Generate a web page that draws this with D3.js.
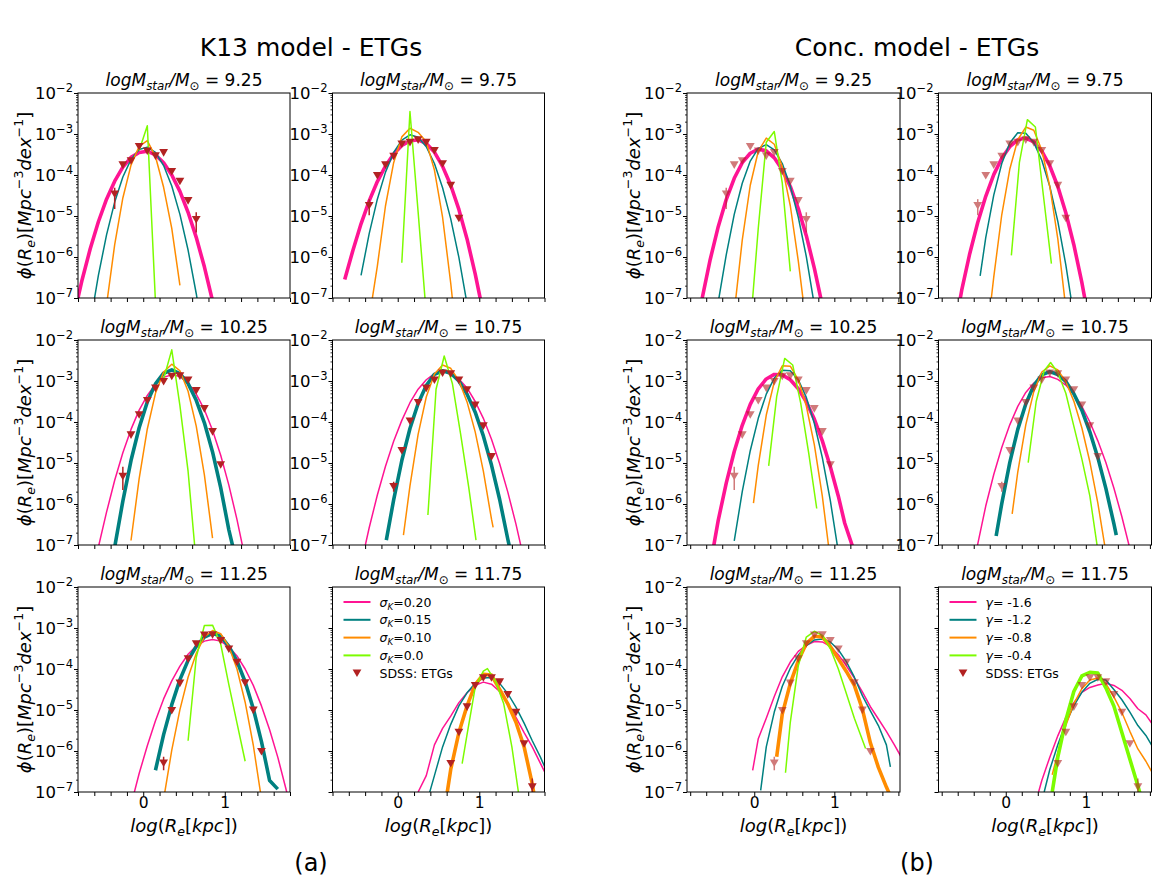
<!DOCTYPE html>
<html>
<head>
<meta charset="utf-8">
<script src="https://cdn.jsdelivr.net/npm/d3@7"></script>
<style>
  body { margin: 0; background: #fff; }
  text { font-family: "DejaVu Sans", sans-serif; fill: #000; }
</style>
</head>
<body>
<svg id="chart" width="1159" height="889"></svg>
<script>
// stellar mass bins (one panel each)
const massBins = ["9.25", "9.75", "10.25", "10.75", "11.25", "11.75"]

// SDSS ETGs: [logRe, log phi, errLow, errHigh]
const sdss925 = [[-0.35, -4.47, -4.83, -4.31], [-0.25, -3.76], [-0.15, -3.66], [-0.05, -3.31], [0.05, -3.42], [0.15, -3.54], [0.25, -3.46], [0.35, -3.92], [0.45, -4.16], [0.55, -4.63], [0.65, -5.09, -5.40, -4.91]]
const sdss975 = [[-0.35, -4.75, -4.98, -4.59], [-0.25, -4.02], [-0.15, -3.76], [-0.05, -3.55], [0.05, -3.25], [0.15, -3.21], [0.25, -3.15], [0.35, -3.21], [0.45, -3.41], [0.55, -3.73], [0.65, -4.26], [0.75, -5.06]]
const sdss1025 = [[-0.25, -5.33, -5.66, -5.09], [-0.15, -4.32], [-0.05, -3.83], [0.05, -3.48], [0.15, -3.18], [0.25, -3.02], [0.35, -2.89], [0.45, -2.88], [0.55, -2.98], [0.65, -3.24], [0.75, -3.68], [0.85, -4.24], [0.95, -5.05]]
const sdss1075 = [[-0.05, -5.58, -5.70, -5.46], [0.05, -4.70], [0.15, -3.98], [0.25, -3.53], [0.35, -3.18], [0.45, -2.98], [0.55, -2.81], [0.65, -2.83], [0.75, -2.98], [0.85, -3.22], [0.95, -3.59], [1.05, -4.10], [1.15, -4.85]]
const sdss1125 = [[0.25, -6.30, -6.47, -6.14], [0.35, -5.02], [0.45, -4.35], [0.55, -3.76], [0.65, -3.39], [0.75, -3.18], [0.85, -3.17], [0.95, -3.31], [1.05, -3.52], [1.15, -3.84], [1.25, -4.34], [1.35, -5.01], [1.45, -6.02]]
const sdss1175 = [[0.65, -6.31], [0.75, -5.55], [0.85, -4.93], [0.95, -4.41], [1.05, -4.22], [1.15, -4.22], [1.25, -4.32], [1.35, -4.63], [1.45, -5.06], [1.55, -5.83], [1.65, -6.88, -7.0, -6.67]]
const sdssData = [sdss925, sdss975, sdss1025, sdss1075, sdss1125, sdss1175]

// K13 model, [logRe, log phi] for sigma_K = 0.20, 0.15, 0.10, 0.0
const k13_925 = [
    [[-0.85, -7.43], [-0.75, -6.56], [-0.65, -5.80], [-0.55, -5.14], [-0.45, -4.59], [-0.35, -4.15], [-0.25, -3.81], [-0.15, -3.57], [-0.05, -3.45], [0.05, -3.42], [0.15, -3.51], [0.25, -3.70], [0.35, -4.00], [0.45, -4.40], [0.55, -4.91], [0.65, -5.52], [0.75, -6.24], [0.85, -7.07]],
    [[-0.65, -7.62], [-0.55, -6.45], [-0.45, -5.46], [-0.35, -4.66], [-0.25, -4.05], [-0.15, -3.62], [-0.05, -3.38], [0.05, -3.32], [0.15, -3.45], [0.25, -3.77], [0.35, -4.27], [0.45, -4.96], [0.55, -5.83], [0.65, -6.89], [0.75, -8.1]],
    [[-0.45, -7.17], [-0.35, -5.70], [-0.25, -4.56], [-0.15, -3.76], [-0.05, -3.30], [0.05, -3.16], [0.15, -3.55], [0.25, -4.30], [0.35, -5.30], [0.45, -6.69]],
    [[-0.05, -3.40], [0.05, -2.80], [0.15, -7.10]]
]
const k13_975 = [
    [[-0.65, -6.55], [-0.55, -5.84], [-0.45, -5.19], [-0.35, -4.63], [-0.25, -4.16], [-0.15, -3.78], [-0.05, -3.49], [0.05, -3.28], [0.15, -3.17], [0.25, -3.14], [0.35, -3.23], [0.45, -3.44], [0.55, -3.79], [0.65, -4.25], [0.75, -4.84], [0.85, -5.56], [0.95, -6.41], [1.05, -7.38]],
    [[-0.45, -6.45], [-0.35, -5.43], [-0.25, -4.59], [-0.15, -3.93], [-0.05, -3.45], [0.05, -3.15], [0.15, -3.02], [0.25, -3.08], [0.35, -3.31], [0.45, -3.72], [0.55, -4.31], [0.65, -5.07], [0.75, -6.01], [0.85, -7.14]],
    [[-0.35, -7.5], [-0.25, -6.22], [-0.15, -4.75], [-0.05, -3.70], [0.05, -3.07], [0.15, -2.86], [0.25, -2.96], [0.35, -3.19], [0.45, -3.88], [0.55, -5.03], [0.65, -6.64], [0.75, -8.5]],
    [[0.05, -6.14], [0.15, -2.45], [0.25, -4.90], [0.35, -7.40]]
]
const k13_1025 = [
    [[-0.55, -7.05], [-0.45, -6.20], [-0.35, -5.42], [-0.25, -4.75], [-0.15, -4.18], [-0.05, -3.71], [0.05, -3.35], [0.15, -3.08], [0.25, -2.91], [0.35, -2.85], [0.45, -2.89], [0.55, -3.05], [0.65, -3.32], [0.75, -3.70], [0.85, -4.20], [0.95, -4.81], [1.05, -5.54], [1.15, -6.38], [1.25, -7.33]],
    [[-0.35, -7.05], [-0.25, -5.93], [-0.15, -4.94], [-0.05, -4.14], [0.05, -3.51], [0.15, -3.07], [0.25, -2.81], [0.35, -2.73], [0.45, -2.82], [0.55, -3.06], [0.65, -3.47], [0.75, -4.02], [0.85, -4.73], [0.95, -5.60], [1.05, -6.63], [1.1, -7.05]],
    [[-0.15, -6.89], [-0.05, -5.38], [0.05, -4.17], [0.15, -3.30], [0.25, -2.78], [0.35, -2.59], [0.45, -2.75], [0.55, -3.25], [0.65, -4.10], [0.75, -5.29], [0.85, -6.83]],
    [[0.25, -2.95], [0.35, -2.24], [0.45, -3.60], [0.55, -5.20], [0.63, -7.0]]
]
const k13_1075 = [
    [[-0.45, -7.47], [-0.35, -6.58], [-0.25, -5.78], [-0.15, -5.08], [-0.05, -4.47], [0.05, -3.96], [0.15, -3.53], [0.25, -3.20], [0.35, -2.97], [0.45, -2.82], [0.55, -2.77], [0.65, -2.81], [0.75, -2.95], [0.85, -3.17], [0.95, -3.50], [1.05, -3.91], [1.15, -4.42], [1.25, -5.02], [1.35, -5.71], [1.45, -6.49], [1.55, -7.37]],
    [[-0.14, -6.88], [-0.05, -5.90], [0.05, -4.94], [0.15, -4.16], [0.25, -3.55], [0.35, -3.11], [0.45, -2.84], [0.55, -2.75], [0.65, -2.81], [0.75, -3.00], [0.85, -3.32], [0.95, -3.76], [1.05, -4.34], [1.15, -5.05], [1.25, -5.89], [1.35, -6.86], [1.4, -7.3]],
    [[0.07, -6.76], [0.15, -5.56], [0.25, -4.30], [0.35, -3.39], [0.45, -2.83], [0.55, -2.61], [0.65, -2.69], [0.75, -2.99], [0.85, -3.51], [0.95, -4.24], [1.05, -5.20], [1.15, -6.37], [1.17, -6.57]],
    [[0.37, -6.27], [0.47, -3.20], [0.57, -2.39], [0.67, -3.06], [0.77, -4.28], [0.87, -5.58], [0.96, -6.88]]
]
const k13_1125 = [
    [[-0.15, -7.32], [-0.05, -6.55], [0.05, -5.87], [0.15, -5.26], [0.25, -4.73], [0.35, -4.29], [0.45, -3.93], [0.55, -3.64], [0.65, -3.44], [0.75, -3.32], [0.85, -3.28], [0.95, -3.32], [1.05, -3.46], [1.15, -3.68], [1.25, -4.00], [1.35, -4.40], [1.45, -4.90], [1.55, -5.48], [1.65, -6.15], [1.75, -6.92], [1.85, -7.77]],
    [[0.15, -6.47], [0.25, -5.60], [0.35, -4.87], [0.45, -4.26], [0.55, -3.79], [0.65, -3.45], [0.75, -3.22], [0.85, -3.13], [0.95, -3.20], [1.05, -3.45], [1.15, -3.81], [1.25, -4.31], [1.35, -4.97], [1.45, -5.77], [1.55, -6.72], [1.65, -6.93]],
    [[0.25, -7.18], [0.35, -5.98], [0.45, -4.99], [0.55, -4.20], [0.65, -3.62], [0.75, -3.22], [0.85, -3.06], [0.95, -3.14], [1.05, -3.45], [1.15, -4.00], [1.25, -4.81], [1.35, -5.86], [1.45, -7.17]],
    [[0.55, -5.75], [0.65, -3.72], [0.75, -2.94], [0.85, -2.93], [0.95, -3.39], [1.05, -4.38], [1.15, -5.32], [1.25, -6.25]]
]
const k13_1175 = [
    [[0.25, -7.0], [0.35, -6.6], [0.45, -5.85], [0.55, -5.45], [0.65, -5.15], [0.75, -4.82], [0.85, -4.58], [0.95, -4.40], [1.05, -4.32], [1.15, -4.37], [1.25, -4.55], [1.35, -4.85], [1.45, -5.18], [1.55, -5.55], [1.65, -5.90], [1.75, -6.30], [1.85, -6.7]],
    [[0.35, -7.3], [0.45, -6.6], [0.55, -5.9], [0.65, -5.35], [0.75, -4.9], [0.85, -4.58], [0.95, -4.35], [1.05, -4.22], [1.15, -4.21], [1.25, -4.35], [1.35, -4.6], [1.45, -4.93], [1.55, -5.32], [1.65, -5.75], [1.75, -6.15], [1.85, -6.6]],
    [[0.6, -7.1], [0.65, -6.45], [0.75, -5.55], [0.85, -4.9], [0.95, -4.38], [1.05, -4.13], [1.15, -4.15], [1.25, -4.5], [1.35, -4.85], [1.45, -5.3], [1.55, -5.9], [1.65, -6.8], [1.7, -7.4]],
    [[0.79, -6.31], [0.85, -5.6], [0.95, -4.45], [1.05, -4.05], [1.1, -3.99], [1.2, -4.3], [1.3, -4.85], [1.4, -5.9], [1.48, -7.0]]
]

// concentration model, gamma = -1.6, -1.2, -0.8, -0.4
const conc_925 = [
    [[-0.65, -7.0], [-0.55, -6.06], [-0.45, -5.26], [-0.35, -4.60], [-0.25, -4.08], [-0.15, -3.70], [-0.05, -3.47], [0.05, -3.37], [0.15, -3.41], [0.25, -3.58], [0.35, -3.87], [0.45, -4.28], [0.55, -4.82], [0.65, -5.48], [0.75, -6.27], [0.85, -7.18]],
    [[-0.45, -7.1], [-0.35, -5.95], [-0.25, -4.96], [-0.15, -4.20], [-0.05, -3.66], [0.05, -3.35], [0.15, -3.26], [0.25, -3.39], [0.35, -3.72], [0.45, -4.27], [0.55, -5.03], [0.65, -5.99], [0.75, -7.17]],
    [[-0.23, -7.0], [-0.15, -5.59], [-0.05, -4.25], [0.05, -3.42], [0.15, -3.10], [0.25, -3.25], [0.35, -3.80], [0.45, -4.75], [0.55, -6.10], [0.62, -7.2]],
    [[-0.02, -7.0], [0.05, -5.3], [0.15, -3.2], [0.25, -2.94], [0.35, -4.2], [0.45, -6.35]]
]
const conc_975 = [
    [[-0.65, -7.9], [-0.55, -6.81], [-0.45, -5.92], [-0.35, -5.16], [-0.25, -4.52], [-0.15, -3.99], [-0.05, -3.59], [0.05, -3.31], [0.15, -3.14], [0.25, -3.10], [0.35, -3.19], [0.45, -3.42], [0.55, -3.78], [0.65, -4.28], [0.75, -4.92], [0.85, -5.70], [0.95, -6.62], [1.05, -7.67]],
    [[-0.32, -6.46], [-0.25, -5.53], [-0.15, -4.49], [-0.05, -3.72], [0.05, -3.22], [0.15, -2.97], [0.25, -2.98], [0.35, -3.21], [0.45, -3.64], [0.55, -4.28], [0.65, -5.13], [0.75, -6.19], [0.85, -7.45]],
    [[-0.18, -7.0], [-0.15, -6.49], [-0.05, -4.97], [0.05, -3.86], [0.15, -3.14], [0.25, -2.83], [0.35, -2.91], [0.45, -3.39], [0.55, -4.28], [0.65, -5.56], [0.75, -7.25]],
    [[0.07, -5.96], [0.17, -3.7], [0.27, -2.65], [0.37, -2.83], [0.47, -4.5], [0.57, -6.16]]
]
const conc_1025 = [
    [[-0.55, -7.5], [-0.45, -6.40], [-0.35, -5.49], [-0.25, -4.72], [-0.15, -4.08], [-0.05, -3.57], [0.05, -3.19], [0.15, -2.95], [0.25, -2.84], [0.35, -2.85], [0.45, -2.97], [0.55, -3.19], [0.65, -3.51], [0.75, -3.93], [0.85, -4.46], [0.95, -5.09], [1.05, -5.81], [1.13, -6.47], [1.23, -7.05]],
    [[-0.25, -6.90], [-0.15, -5.70], [-0.05, -4.70], [0.05, -3.91], [0.15, -3.32], [0.25, -2.93], [0.35, -2.74], [0.45, -2.75], [0.55, -2.97], [0.65, -3.40], [0.75, -4.03], [0.85, -4.87], [0.95, -5.92], [1.05, -7.17]],
    [[-0.01, -5.98], [0.05, -5.06], [0.15, -3.83], [0.25, -3.02], [0.35, -2.63], [0.45, -2.64], [0.55, -2.97], [0.65, -3.61], [0.75, -4.55], [0.85, -5.81], [0.95, -7.37]],
    [[0.18, -5.07], [0.28, -3.38], [0.38, -2.45], [0.48, -2.61], [0.58, -3.54], [0.68, -4.76], [0.78, -6.11]]
]
const conc_1075 = [
    [[-0.45, -7.9], [-0.35, -6.98], [-0.25, -6.05], [-0.15, -5.28], [-0.05, -4.62], [0.05, -4.07], [0.15, -3.62], [0.25, -3.28], [0.35, -3.05], [0.45, -2.92], [0.55, -2.89], [0.65, -2.96], [0.75, -3.10], [0.85, -3.32], [0.95, -3.62], [1.05, -4.00], [1.15, -4.46], [1.25, -4.99], [1.35, -5.61], [1.45, -6.31], [1.55, -7.09]],
    [[-0.12, -6.78], [-0.05, -5.99], [0.05, -4.99], [0.15, -4.18], [0.25, -3.56], [0.35, -3.11], [0.45, -2.85], [0.55, -2.77], [0.65, -2.84], [0.75, -3.01], [0.85, -3.31], [0.95, -3.71], [1.05, -4.24], [1.15, -4.87], [1.25, -5.62], [1.35, -6.48], [1.38, -6.76]],
    [[0.08, -6.24], [0.15, -5.22], [0.25, -4.07], [0.35, -3.26], [0.45, -2.78], [0.55, -2.63], [0.65, -2.73], [0.75, -3.02], [0.85, -3.49], [0.95, -4.14], [1.05, -4.97], [1.15, -5.98], [1.25, -7.18]],
    [[0.28, -4.99], [0.38, -3.5], [0.48, -2.75], [0.56, -2.55], [0.65, -2.8], [0.75, -3.3], [0.85, -4.1], [0.95, -4.9], [1.05, -5.8], [1.14, -7.0]]
]
const conc_1125 = [
    [[-0.02, -6.47], [0.05, -5.7], [0.15, -5.2], [0.25, -4.67], [0.35, -4.19], [0.45, -3.83], [0.55, -3.57], [0.65, -3.42], [0.75, -3.33], [0.85, -3.34], [0.95, -3.45], [1.05, -3.65], [1.15, -3.92], [1.25, -4.22], [1.35, -4.56], [1.45, -4.92], [1.55, -5.22], [1.65, -5.52], [1.75, -5.85], [1.85, -6.2]],
    [[0.08, -6.96], [0.15, -5.9], [0.25, -5.05], [0.35, -4.42], [0.45, -3.98], [0.55, -3.66], [0.65, -3.43], [0.75, -3.29], [0.85, -3.27], [0.95, -3.34], [1.05, -3.53], [1.15, -3.82], [1.25, -4.2], [1.35, -4.65], [1.45, -5.02], [1.55, -5.38], [1.65, -5.85], [1.7, -6.39]],
    [[0.28, -6.14], [0.35, -5.1], [0.45, -4.35], [0.55, -3.8], [0.65, -3.38], [0.75, -3.2], [0.85, -3.22], [0.95, -3.45], [1.05, -3.75], [1.15, -4.06], [1.25, -4.4], [1.35, -4.98], [1.45, -5.8], [1.55, -6.4], [1.65, -6.88], [1.7, -7.1]],
    [[0.39, -6.53], [0.45, -5.3], [0.55, -3.92], [0.65, -3.22], [0.75, -3.08], [0.85, -3.18], [0.95, -3.5], [1.05, -4.0], [1.15, -4.6], [1.25, -5.2], [1.39, -5.94]]
]
const conc_1175 = [
    [[0.41, -7.0], [0.45, -6.72], [0.55, -6.15], [0.65, -5.63], [0.75, -5.18], [0.85, -4.82], [0.95, -4.57], [1.05, -4.45], [1.15, -4.39], [1.25, -4.35], [1.35, -4.4], [1.45, -4.52], [1.55, -4.72], [1.65, -4.97], [1.75, -5.12], [1.85, -5.4]],
    [[0.48, -7.0], [0.55, -6.45], [0.65, -5.85], [0.75, -5.32], [0.85, -4.9], [0.95, -4.57], [1.05, -4.35], [1.15, -4.25], [1.25, -4.27], [1.35, -4.5], [1.45, -4.75], [1.55, -5.05], [1.65, -5.38], [1.75, -5.62], [1.85, -5.95]],
    [[0.58, -6.58], [0.65, -6.05], [0.75, -5.38], [0.85, -4.85], [0.95, -4.48], [1.05, -4.27], [1.15, -4.22], [1.25, -4.36], [1.35, -4.68], [1.45, -5.06], [1.55, -5.52], [1.65, -5.95], [1.75, -6.25], [1.85, -6.6]],
    [[0.58, -7.0], [0.65, -6.15], [0.75, -5.25], [0.85, -4.55], [0.95, -4.17], [1.05, -4.08], [1.15, -4.1], [1.25, -4.46], [1.35, -4.9], [1.45, -5.55], [1.55, -6.2], [1.65, -6.85], [1.7, -7.2]]
]

const k13Series = [k13_925, k13_975, k13_1025, k13_1075, k13_1125, k13_1175]
const concSeries = [conc_925, conc_975, conc_1025, conc_1075, conc_1125, conc_1175]

// index of the thick (best) curve in each panel
const k13Best = [0, 0, 1, 1, 1, 2]
const concBest = [0, 0, 0, 1, 2, 3]

// legend labels
const k13Legend = ["0.20", "0.15", "0.10", "0.0"]
const concLegend = ["-1.6", "-1.2", "-0.8", "-0.4"]

// tick values
const xTicks = d3.range(-4, 10).map(k => k / 5)
const yMajor = [1e-7, 1e-6, 1e-5, 1e-4, 1e-3, 1e-2]
const yMinor = d3.range(-7, -2).flatMap(e => d3.range(2, 10).map(m => m * Math.pow(10, e)))

// styling
const lineColors = ["#ff1493", "#008080", "#ff8c00", "#7cfc00"]
const sdssColor = "#b22222"
const rowTop = [93, 340, 587]
const panelH = 205

const groups = [
    { lefts: [78, 332.5], width: 212, xDomain: [-0.8, 1.8], series: k13Series, best: k13Best, alpha: 1,
      title: "K13 model - ETGs", tag: "(a)", cx: 311 },
    { lefts: [687, 938.5], width: 213, xDomain: [-0.84, 1.82], series: concSeries, best: concBest, alpha: 0.6,
      title: "Conc. model - ETGs", tag: "(b)", cx: 917 }
]

const svg = d3.select("#chart")
const defs = svg.append("defs")

// mathtext-like label: parts are [text, style] with style containing i / sub / sup
function rich(text, parts, size) {
    parts.forEach(([t, st]) => {
        const ts = text.append("tspan").text(t)
        if (st.includes("i")) ts.attr("font-style", "italic")
        if (st.includes("sub")) ts.attr("font-size", size * 0.7).attr("baseline-shift", (-size * 0.22) + "px")
        if (st.includes("sup")) ts.attr("font-size", size * 0.7).attr("baseline-shift", (size * 0.42) + "px")
    })
    return text
}

const triPath = "M-4.4,-3.8L4.4,-3.8L0,3.8Z"

groups.forEach((G, gi) => {
    svg.append("text")
        .attr("x", G.cx).attr("y", 56)
        .attr("text-anchor", "middle")
        .attr("font-size", 25)
        .text(G.title)

    svg.append("text")
        .attr("x", G.cx).attr("y", 871)
        .attr("text-anchor", "middle")
        .attr("font-size", 24)
        .text(G.tag)

    massBins.forEach((mass, i) => {
        const r = Math.floor(i / 2), c = i % 2
        const left = G.lefts[c], top = rowTop[r], w = G.width

        const x = d3.scaleLinear().domain(G.xDomain).range([left, left + w])
        const y = d3.scaleLog().domain([1e-7, 1e-2]).range([top + panelH, top])

        const clipId = "clip" + gi + "_" + i
        defs.append("clipPath").attr("id", clipId)
            .append("rect").attr("x", left).attr("y", top).attr("width", w).attr("height", panelH)

        const panel = svg.append("g")
        const plot = panel.append("g").attr("clip-path", "url(#" + clipId + ")")

        const line = d3.line()
            .x(d => x(d[0]))
            .y(d => y(Math.pow(10, d[1])))

        G.series[i].forEach((pts, k) => {
            plot.append("path")
                .attr("d", line(pts))
                .attr("fill", "none")
                .attr("stroke", lineColors[k])
                .attr("stroke-width", k === G.best[i] ? 3.6 : 1.5)
                .attr("stroke-linejoin", "round")
        })

        const obs = plot.append("g").attr("opacity", G.alpha)
        obs.selectAll("line")
            .data(sdssData[i].filter(d => d.length > 2))
            .join("line")
            .attr("x1", d => x(d[0])).attr("x2", d => x(d[0]))
            .attr("y1", d => y(Math.pow(10, d[2]))).attr("y2", d => y(Math.pow(10, d[3])))
            .attr("stroke", sdssColor)
            .attr("stroke-width", 1.5)
        obs.selectAll("path")
            .data(sdssData[i])
            .join("path")
            .attr("d", triPath)
            .attr("transform", d => `translate(${x(d[0])},${y(Math.pow(10, d[1]))})`)
            .attr("fill", sdssColor)

        // frame
        panel.append("rect")
            .attr("x", left).attr("y", top).attr("width", w).attr("height", panelH)
            .attr("fill", "none").attr("stroke", "#000").attr("stroke-width", 1)

        // x axis
        const xAxis = panel.append("g")
            .attr("transform", `translate(0,${top + panelH})`)
            .call(d3.axisBottom(x).tickValues(xTicks).tickSize(4).tickSizeOuter(0).tickFormat(d => {
                if (r !== 2) return ""
                if (Math.abs(d) < 1e-9) return "0"
                if (Math.abs(d - 1) < 1e-9) return "1"
                return ""
            }))
        xAxis.select(".domain").remove()
        xAxis.selectAll("line").attr("stroke", "#000").attr("stroke-width", 1)
        xAxis.selectAll("text").filter(function () { return this.textContent === "" }).remove()
        xAxis.selectAll("text").attr("font-size", 15.5).attr("y", 5).attr("fill", "#000")

        // y axis, major and minor ticks
        const yAxis = panel.append("g")
            .attr("transform", `translate(${left},0)`)
            .call(d3.axisLeft(y).tickValues(yMajor).tickSize(4).tickSizeOuter(0).tickFormat(""))
        yAxis.select(".domain").remove()
        yAxis.selectAll("text").remove()
        yAxis.selectAll("line").attr("stroke", "#000").attr("stroke-width", 1)
        const yMin = panel.append("g")
            .attr("transform", `translate(${left},0)`)
            .call(d3.axisLeft(y).tickValues(yMinor).tickSize(2).tickSizeOuter(0).tickFormat(""))
        yMin.select(".domain").remove()
        yMin.selectAll("text").remove()
        yMin.selectAll("line").attr("stroke", "#000").attr("stroke-width", 0.8)

        if (c === 0 || r < 2) {
            yMajor.forEach(v => {
                const t = panel.append("text")
                    .attr("x", left - 5).attr("y", y(v) + 6)
                    .attr("text-anchor", "end")
                    .attr("font-size", 16.5)
                rich(t, [["10", ""], ["\u2212" + Math.round(-Math.log10(v)), "sup"]], 16.5)
            })
        }

        // panel title
        const tt = panel.append("text")
            .attr("x", left + w / 2).attr("y", top - 7)
            .attr("text-anchor", "middle")
            .attr("font-size", 17)
        rich(tt, [["logM", "i"], ["star", "isub"], ["/M", "i"], ["\u2299", "sub"], [" = " + mass, ""]], 17)

        // axis labels
        if (c === 0) {
            const yl = panel.append("text")
                .attr("transform", `translate(${left - 47},${top + panelH / 2}) rotate(-90)`)
                .attr("text-anchor", "middle")
                .attr("font-size", 18)
            rich(yl, [["\u03d5", "i"], ["(", ""], ["R", "i"], ["e", "isub"], [")[", ""], ["Mpc", "i"],
                ["\u22123", "sup"], ["dex", "i"], ["\u22121", "sup"], ["]", ""]], 18)
        }
        if (r === 2) {
            const xl = panel.append("text")
                .attr("x", left + w / 2).attr("y", 832)
                .attr("text-anchor", "middle")
                .attr("font-size", 18)
            rich(xl, [["log", "i"], ["(", ""], ["R", "i"], ["e", "isub"], ["[", ""], ["kpc", "i"], ["])", ""]], 18)
        }

        // legend in the last panel
        if (i === 5) {
            const leg = panel.append("g")
            const labels = gi === 0 ? k13Legend : concLegend
            labels.forEach((lab, k) => {
                const ly = top + 15 + k * 17.8
                leg.append("line")
                    .attr("x1", left + 11).attr("x2", left + 38)
                    .attr("y1", ly).attr("y2", ly)
                    .attr("stroke", lineColors[k]).attr("stroke-width", 2)
                const t = leg.append("text")
                    .attr("x", left + 47).attr("y", ly + 4.5)
                    .attr("font-size", 12.5)
                if (gi === 0) rich(t, [["\u03c3", "i"], ["K", "isub"], ["=" + lab, ""]], 12.5)
                else rich(t, [["\u03b3", "i"], ["= " + lab, ""]], 12.5)
            })
            const sy = top + 15 + 4 * 17.8
            leg.append("path")
                .attr("d", triPath)
                .attr("transform", `translate(${left + 24.5},${sy})`)
                .attr("fill", sdssColor)
            leg.append("text")
                .attr("x", left + 47).attr("y", sy + 4.5)
                .attr("font-size", 12.5)
                .text("SDSS: ETGs")
        }
    })
})
</script>
</body>
</html>
